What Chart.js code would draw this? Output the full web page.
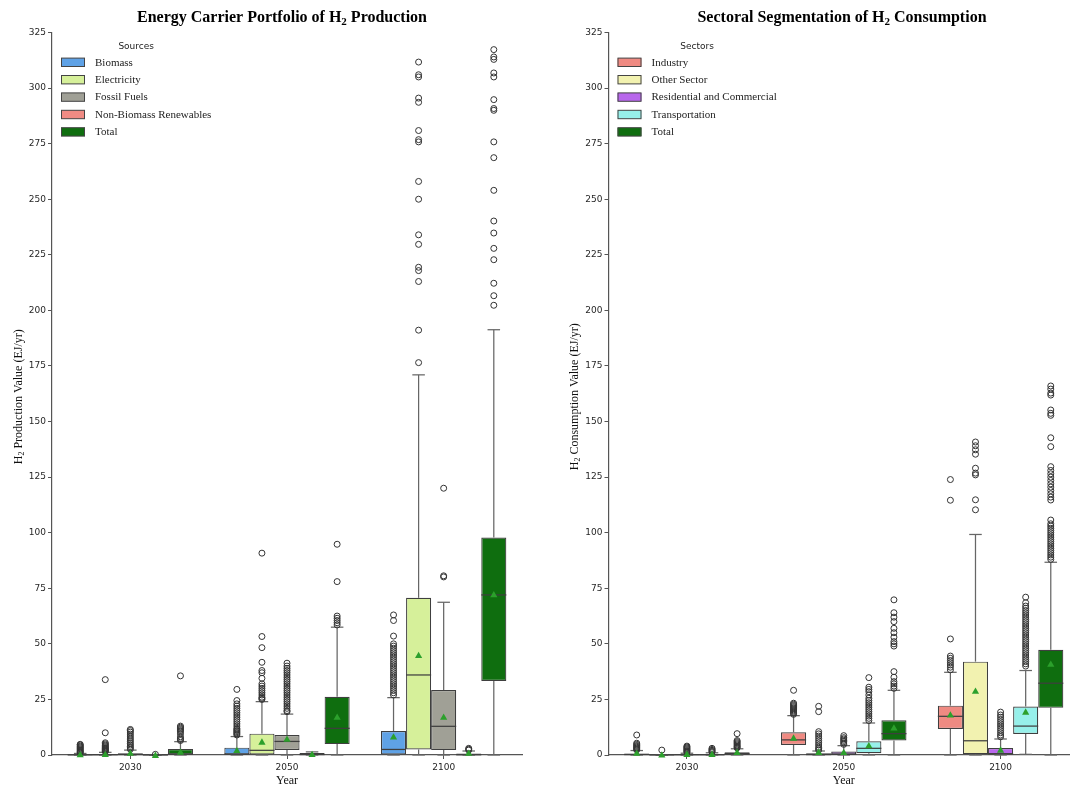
<!DOCTYPE html>
<html>
<head>
<meta charset="utf-8">
<script src="https://cdn.jsdelivr.net/npm/chart.js@4.4.1/dist/chart.umd.min.js"></script>
<style>
  html, body { margin: 0; padding: 0; background: #ffffff; overflow: hidden; width: 1070px; height: 788px; }
  #c1 { position: absolute; left: 0; top: 0; }
  #c2 { position: absolute; left: 540px; top: 0; }
</style>
</head>
<body>
<canvas id="c1" width="540" height="788"></canvas>
<canvas id="c2" width="560" height="788"></canvas>
<script>
// ---------------- DATA ----------------
const years = ['2030', '2050', '2100'];
const yTicksMax = 325;
const yTickStep = 25;

// Production chart: box stats per year = [whiskerLow, q1, median, q3, whiskerHigh]
const prodSeries = ['Biomass', 'Electricity', 'Fossil Fuels', 'Non-Biomass Renewables', 'Total'];
const biomassStats = [[0, 0, 0.05, 0.3, 0.7], [0, 0, 0.4, 3.3, 8.3], [0, 0, 2.5, 10.8, 25.8]];
const biomassMeans = [0.3, 2.2, 8.3];
const biomassOutliers = [
  [1.0, 1.3, 1.6, 2.0, 2.4, 2.8, 3.2, 3.6, 4.0, 4.5, 4.8],
  [9.0, 9.5, 10, 10.5, 11, 11.5, 12, 13, 14, 15, 16, 17, 18, 19, 20, 21, 22, 23, 24.5, 29.5],
  [27, 28, 29, 30, 31, 32, 33, 34, 35, 36, 37, 38, 39, 40, 41, 42, 43, 44, 45, 46, 47, 48, 49, 50, 53.5, 60.5, 63]
];
const electricityStats = [[0, 0, 0.1, 0.5, 1.2], [0, 0, 2.1, 9.6, 24.0], [0, 2.5, 36, 70.7, 171]];
const electricityMeans = [0.4, 6.0, 45];
const electricityOutliers = [
  [1.5, 1.8, 2.1, 2.4, 2.7, 3.0, 3.3, 3.7, 4.1, 4.5, 5.0, 5.5, 10.0, 33.9],
  [25, 25.5, 26, 27, 28, 29, 30, 31, 32, 34.5, 37, 38, 41.7, 48.3, 53.3, 90.8],
  [176.5, 191.1, 213, 217.9, 219.4, 229.7, 234, 250, 258, 275.8, 276.8, 280.9, 293.6, 295.5, 305, 306, 311.7]
];
const fossilStats = [[0, 0, 0.2, 0.8, 2.2], [0, 2.3, 6.1, 9.0, 18.4], [0, 2.2, 12.9, 29.2, 68.7]];
const fossilMeans = [1.0, 7.3, 17.2];
const fossilOutliers = [
  [2.6, 3.2, 3.8, 4.5, 5.2, 6.0, 6.8, 7.6, 8.5, 9.4, 10.3, 11.0, 11.5],
  [19.5, 20, 21, 22, 23, 24, 25, 26, 27, 28, 29, 30, 31, 32, 33, 34, 35, 36, 37, 38, 39, 40, 41.3],
  [80.1, 80.6, 120]
];
const nonBiomassStats = [[0, 0, 0, 0.05, 0.1], [0, 0, 0.2, 0.9, 1.4], [0, 0, 0.1, 0.7, 1.8]];
const nonBiomassMeans = [0.05, 0.4, 1.0];
const nonBiomassOutliers = [[0.3], [], [2.2, 2.6, 3.0]];
const prodTotalStats = [[0, 0, 0.4, 2.7, 6.0], [0, 4.9, 12.0, 26.2, 57.5], [0, 33.3, 72, 97.8, 191.3]];
const prodTotalMeans = [1.5, 17.2, 72.3];
const prodTotalOutliers = [
  [6.5, 7.0, 7.5, 8.2, 9.5, 10.5, 11.0, 11.5, 12.0, 12.5, 13.0, 35.6],
  [58.5, 59.5, 60.5, 61.5, 62.5, 78, 94.8],
  [202.3, 206.6, 212.2, 222.8, 227.9, 234.8, 240.2, 254, 268.7, 275.8, 290, 290.8, 294.8, 305, 306.8, 312.9, 314, 317.3]
];

// Consumption chart
const consSeries = ['Industry', 'Other Sector', 'Residential and Commercial', 'Transportation', 'Total'];
const industryStats = [[0, 0, 0.2, 0.7, 2.0], [0, 4.5, 6.8, 10.2, 17.7], [0, 11.7, 17.4, 22.2, 37.2]];
const industryMeans = [1.0, 7.8, 18.2];
const industryOutliers = [
  [2.3, 2.7, 3.1, 3.5, 3.9, 4.3, 4.8, 5.3, 9.0],
  [18.3, 18.8, 19.3, 19.8, 20.3, 20.8, 21.3, 21.8, 22.3, 22.8, 23.3, 29.1],
  [38.3, 39.5, 40.5, 41.5, 42.5, 43.5, 44.5, 52.2, 114.6, 123.9]
];
const otherStats = [[0, 0, 0, 0.05, 0.1], [0, 0, 0.2, 0.8, 1.8], [0, 0.4, 6.4, 42, 99.2]];
const otherMeans = [0.2, 1.4, 28.9];
const otherOutliers = [
  [2.2],
  [2.2, 2.8, 3.5, 4.5, 5.5, 6.5, 7.5, 8.5, 9.5, 10.5, 19.5, 21.9],
  [110.3, 114.8, 126, 126.8, 129, 135.3, 137.3, 139.1, 140.8]
];
const residentialStats = [[0, 0, 0.1, 0.3, 0.8], [0, 0, 0.3, 1.6, 4.2], [0, 0, 0.6, 3.1, 7.2]];
const residentialMeans = [0.5, 1.3, 2.4];
const residentialOutliers = [
  [1.2, 1.6, 2.0, 2.4, 2.8, 3.2, 3.6, 4.0],
  [4.8, 5.4, 6.0, 6.6, 7.2, 7.8, 8.7],
  [8.2, 9, 10, 11, 12, 13, 14, 15, 16, 17, 18, 19.3]
];
const transportStats = [[0, 0, 0.1, 0.4, 1.0], [0, 0.8, 3.0, 6.2, 14.4], [0.3, 9.5, 13, 21.8, 38]];
const transportMeans = [0.5, 4.4, 19.5];
const transportOutliers = [
  [1.3, 1.7, 2.1, 2.5, 3.0],
  [15.5, 16.5, 17.5, 18.5, 19.5, 20.5, 21.5, 22.5, 23.5, 24.5, 25.5, 27, 28.5, 29.5, 30.5, 34.8],
  [40, 41, 42, 43, 44, 45, 46, 47, 48, 49, 50, 51, 52, 53, 54, 55, 56, 57, 58, 59, 60, 61, 62, 63, 64, 65, 66, 67, 68.5, 71]
];
const consTotalStats = [[0, 0.1, 0.5, 1.2, 2.8], [0, 6.5, 9.6, 15.6, 29.1], [0, 21.2, 32.3, 47.3, 86.7]];
const consTotalMeans = [1.4, 12.4, 41];
const consTotalOutliers = [
  [3.2, 3.6, 4.0, 4.5, 5.0, 5.5, 6.0, 6.5, 9.6],
  [30, 31, 32, 33, 35, 37.5, 49, 50, 51, 53, 55, 57, 60, 62, 64, 69.8],
  [88, 89, 90, 91, 92, 93, 94, 95, 96, 97, 98, 99, 100, 101, 102, 103, 104, 105.7,
   114.7, 116, 117.5, 119, 120.5, 122, 123.5, 125, 126.5, 128, 129.7, 138.7, 142.7, 152.8, 153.7, 155.2, 161.9, 162.8, 164.6, 166]
];

// Title text pieces (subscript marked)
const prodTitle = [['Energy Carrier Portfolio of H', false], ['2', true], [' Production', false]];
const consTitle = [['Sectoral Segmentation of H', false], ['2', true], [' Consumption', false]];
const prodYLabel = [['H', false], ['2', true], [' Production Value (EJ/yr)', false]];
const consYLabel = [['H', false], ['2', true], [' Consumption Value (EJ/yr)', false]];

// ---------------- STYLE ----------------
const prodColors = ['#5fa2e6', '#d6f09a', '#a0a096', '#f08b84', '#0f6e0f'];
const consColors = ['#ef8a82', '#f2f2b0', '#b867ec', '#97f0ea', '#0f6e0f'];
const EDGE = '#3f3f3f';
const WHISK = '#666666';
const MEAN = '#2ca02c';
const SERIF = "'Liberation Serif', 'Times New Roman', serif";
const SANS = "'DejaVu Sans', sans-serif";

function makeDataset(label, color, stats, means, outliers) {
  return {
    label: label,
    data: stats.map(s => [s[1], s[3]]),
    backgroundColor: color,
    borderColor: EDGE,
    borderWidth: 1.2,
    borderSkipped: false,
    stats: stats, means: means, outliers: outliers
  };
}

const boxPlugin = {
  id: 'boxDecor',
  afterDatasetsDraw(chart) {
    const ctx = chart.ctx;
    const ys = chart.scales.y;
    const py = v => ys.getPixelForValue(v);
    const line = (x1, y1, x2, y2) => { ctx.beginPath(); ctx.moveTo(x1, y1); ctx.lineTo(x2, y2); ctx.stroke(); };
    chart.data.datasets.forEach((ds, i) => {
      const meta = chart.getDatasetMeta(i);
      meta.data.forEach((bar, j) => {
        const st = ds.stats[j];
        const x = bar.x, w = bar.width;
        ctx.save();
        ctx.lineCap = 'butt';
        ctx.strokeStyle = WHISK; ctx.lineWidth = 1.25;
        if (st[4] > st[3]) line(x, py(st[3]), x, py(st[4]));
        line(x - w / 4, py(st[4]), x + w / 4, py(st[4]));
        if (st[0] < st[1]) line(x, py(st[1]), x, py(st[0]));
        line(x - w / 4, py(st[0]), x + w / 4, py(st[0]));
        ctx.strokeStyle = EDGE; ctx.lineWidth = 1.25;
        line(x - w / 2, py(st[2]), x + w / 2, py(st[2]));
        ctx.strokeStyle = '#333333'; ctx.lineWidth = 1;
        ds.outliers[j].forEach(v => {
          ctx.beginPath(); ctx.arc(x, py(v), 3, 0, Math.PI * 2); ctx.stroke();
        });
        const my = py(ds.means[j]);
        ctx.fillStyle = MEAN;
        ctx.beginPath();
        ctx.moveTo(x, my - 3.3); ctx.lineTo(x - 3.6, my + 3); ctx.lineTo(x + 3.6, my + 3);
        ctx.closePath(); ctx.fill();
        ctx.restore();
      });
    });
  }
};

// draws text pieces with a subscript, centred at (0,0) of current transform
function drawPieces(ctx, pieces, size, bold) {
  const w = bold ? 'bold ' : '';
  const subSize = Math.round(size * 0.7);
  let total = 0;
  pieces.forEach(p => {
    ctx.font = w + (p[1] ? subSize : size) + 'px ' + SERIF;
    total += ctx.measureText(p[0]).width;
  });
  let x = -total / 2;
  ctx.textAlign = 'left'; ctx.textBaseline = 'alphabetic';
  const base = size * 0.33;
  pieces.forEach(p => {
    ctx.font = w + (p[1] ? subSize : size) + 'px ' + SERIF;
    ctx.fillText(p[0], x, p[1] ? base + size * 0.2 : base);
    x += ctx.measureText(p[0]).width;
  });
}

const titleLegendPlugin = {
  id: 'titleLegend',
  afterDraw(chart) {
    const o = chart.options.plugins.titleLegend;
    const ctx = chart.ctx;
    const ca = chart.chartArea;
    ctx.save();
    ctx.fillStyle = '#000';
    ctx.translate(o.titleX, 17);
    drawPieces(ctx, o.title, 16, true);
    ctx.restore();

    ctx.save();
    ctx.fillStyle = '#111';
    ctx.translate(o.yLabelX, (ca.top + ca.bottom) / 2 + 3);
    ctx.rotate(-Math.PI / 2);
    drawPieces(ctx, o.yLabel, 12, false);
    ctx.restore();

    ctx.save();
    const px = ca.left + 9, lx = px + 34;
    ctx.font = '11px ' + SERIF;
    let maxW = 0;
    chart.data.datasets.forEach(ds => { maxW = Math.max(maxW, ctx.measureText(ds.label).width); });
    const cx = ((px - 4) + (lx + maxW + 4)) / 2;
    ctx.font = '9px ' + SANS; ctx.fillStyle = '#222';
    ctx.textAlign = 'center'; ctx.textBaseline = 'middle';
    ctx.fillText(o.legendTitle, cx, 46.7);
    chart.data.datasets.forEach((ds, k) => {
      const y = 62.3 + k * 17.4;
      ctx.fillStyle = ds.backgroundColor;
      ctx.fillRect(px, y - 4.2, 24, 8.4);
      ctx.strokeStyle = '#444'; ctx.lineWidth = 1;
      ctx.strokeRect(px + 0.5, y - 4.2, 23, 8.4);
      ctx.fillStyle = '#222';
      ctx.font = '11px ' + SERIF; ctx.textAlign = 'left';
      ctx.fillText(ds.label, lx, y + 0.5);
    });
    ctx.restore();
  }
};

function makeOptions(yAxisWidth, padRight, yLabel, yLabelX, title, titleX, legendTitle) {
  return {
    responsive: false,
    animation: false,
    events: [],
    layout: { padding: { left: 0, top: 32.5, right: padRight, bottom: 0 } },
    datasets: { bar: { categoryPercentage: 0.8, barPercentage: 1.0 } },
    plugins: {
      legend: { display: false },
      tooltip: { enabled: false },
      title: { display: false },
      titleLegend: { title: title, titleX: titleX, legendTitle: legendTitle, yLabel: yLabel, yLabelX: yLabelX }
    },
    scales: {
      x: {
        type: 'category',
        offset: true,
        grid: { display: true, drawOnChartArea: false, offset: false, tickLength: 4, color: '#555', lineWidth: 1 },
        border: { display: true, color: '#555', width: 1.2 },
        ticks: { font: { family: SANS, size: 9 }, color: '#262626', padding: 3, maxRotation: 0 },
        title: { display: true, text: 'Year', font: { family: SERIF, size: 12 }, color: '#111', padding: { top: 1, bottom: 0 } },
        afterFit: s => { s.height = 33; }
      },
      y: {
        min: 0, max: yTicksMax,
        grid: { display: true, drawOnChartArea: false, tickLength: 4, color: '#555', lineWidth: 1 },
        border: { display: true, color: '#555', width: 1.2 },
        ticks: { stepSize: yTickStep, font: { family: SANS, size: 9 }, color: '#262626', padding: 2 },
        afterFit: s => { s.width = yAxisWidth; }
      }
    }
  };
}

new Chart(document.getElementById('c1'), {
  type: 'bar',
  data: {
    labels: years,
    datasets: [
      makeDataset(prodSeries[0], prodColors[0], biomassStats, biomassMeans, biomassOutliers),
      makeDataset(prodSeries[1], prodColors[1], electricityStats, electricityMeans, electricityOutliers),
      makeDataset(prodSeries[2], prodColors[2], fossilStats, fossilMeans, fossilOutliers),
      makeDataset(prodSeries[3], prodColors[3], nonBiomassStats, nonBiomassMeans, nonBiomassOutliers),
      makeDataset(prodSeries[4], prodColors[4], prodTotalStats, prodTotalMeans, prodTotalOutliers)
    ]
  },
  options: makeOptions(52, 18, prodYLabel, 18, prodTitle, 282, 'Sources'),
  plugins: [boxPlugin, titleLegendPlugin]
});

new Chart(document.getElementById('c2'), {
  type: 'bar',
  data: {
    labels: years,
    datasets: [
      makeDataset(consSeries[0], consColors[0], industryStats, industryMeans, industryOutliers),
      makeDataset(consSeries[1], consColors[1], otherStats, otherMeans, otherOutliers),
      makeDataset(consSeries[2], consColors[2], residentialStats, residentialMeans, residentialOutliers),
      makeDataset(consSeries[3], consColors[3], transportStats, transportMeans, transportOutliers),
      makeDataset(consSeries[4], consColors[4], consTotalStats, consTotalMeans, consTotalOutliers)
    ]
  },
  options: makeOptions(68.5, 21, consYLabel, 34, consTitle, 302, 'Sectors'),
  plugins: [boxPlugin, titleLegendPlugin]
});
</script>
</body>
</html>
